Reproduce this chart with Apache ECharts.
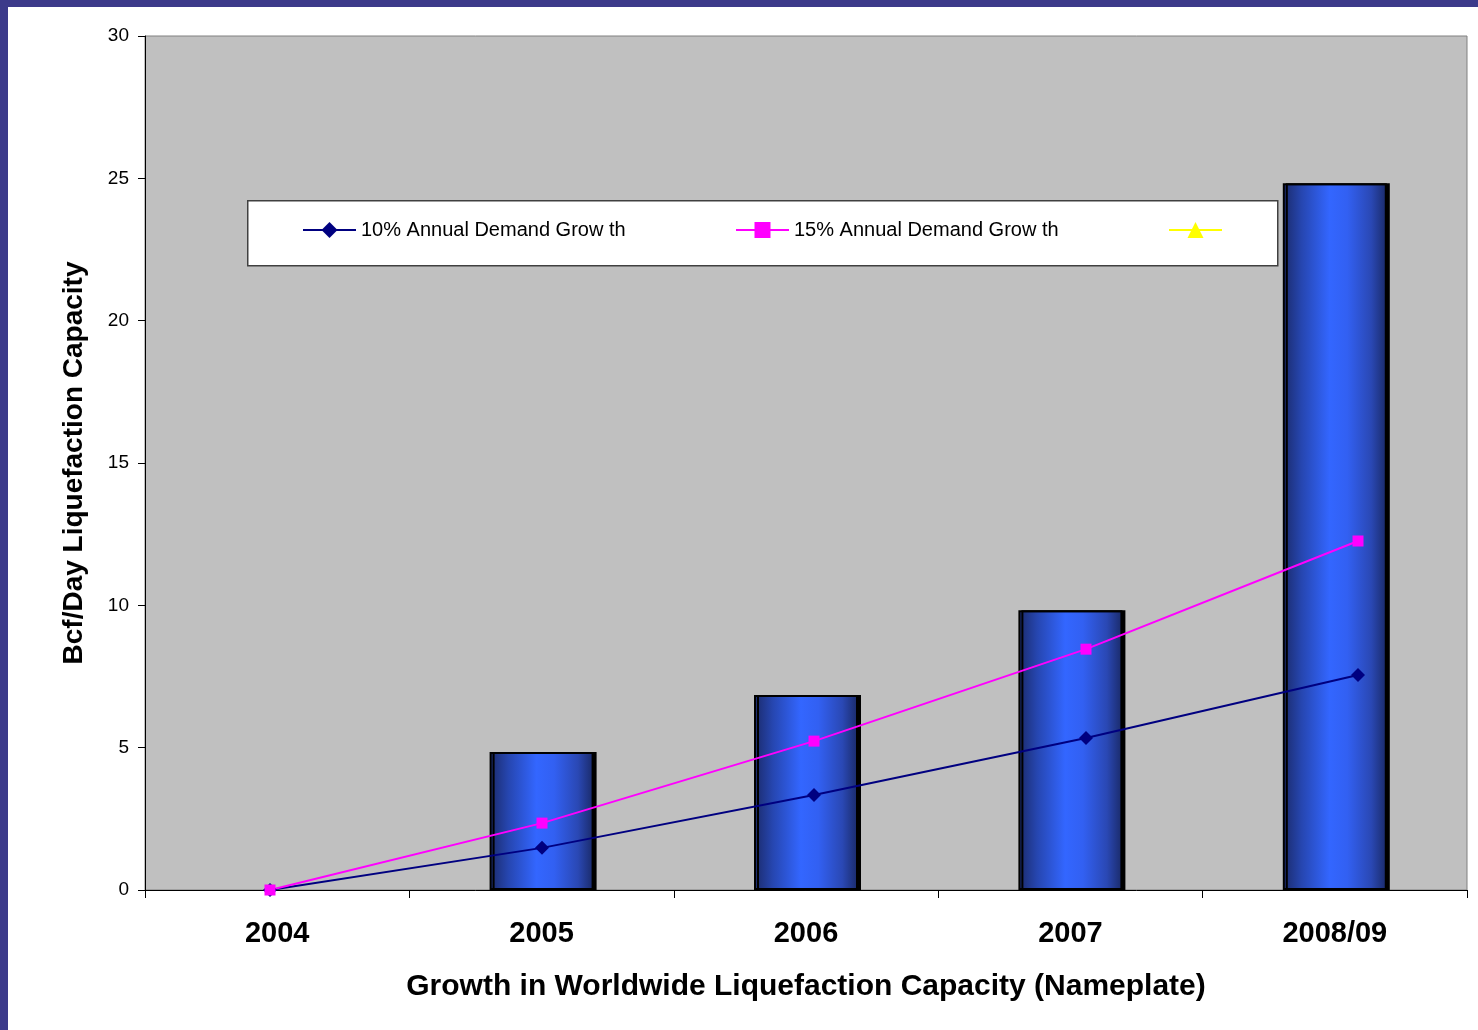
<!DOCTYPE html>
<html>
<head>
<meta charset="utf-8">
<script src="https://cdn.jsdelivr.net/npm/echarts@6/dist/echarts.min.js"></script>
<style>
  html, body { margin: 0; padding: 0; background: #ffffff; }
  #chart { position: absolute; left: 0; top: 0; width: 1478px; height: 1030px; }
  .frame { position: absolute; background: #3c3a8a; z-index: 5; }
</style>
</head>
<body>
<div id="chart"></div>
<div class="frame" style="left:0;top:0;width:1478px;height:7px;"></div>
<div class="frame" style="left:0;top:0;width:8px;height:1030px;"></div>
<script>
// Liquefaction capacity growth vs. demand growth scenarios (Bcf/day)
const categories = ['2004', '2005', '2006', '2007', '2008/09'];
const capacityAdded = [null, 4.85, 6.85, 9.83, 24.83];
const demand10 = [0, 1.48, 3.34, 5.34, 7.55];
const demand15 = [0, 2.35, 5.23, 8.46, 12.26];
const yTicks = [0, 5, 10, 15, 20, 25, 30];

const FONT = '"Liberation Sans", Arial, sans-serif';

const chart = echarts.init(document.getElementById('chart'), null, { renderer: 'canvas' });

const barGradient = new echarts.graphic.LinearGradient(0, 0, 1, 0, [
  { offset: 0, color: '#1b2a6a' },
  { offset: 0.18, color: '#2646b0' },
  { offset: 0.45, color: '#3366ff' },
  { offset: 0.62, color: '#3260f2' },
  { offset: 0.85, color: '#2a48b4' },
  { offset: 1, color: '#1a2a68' }
]);

chart.setOption({
  animation: false,
  backgroundColor: 'transparent',
  grid: [
    { left: 145, right: 11, top: 36, bottom: 140, show: true,
      backgroundColor: '#c0c0c0', borderColor: '#808080', borderWidth: 1 },
    // demand lines are plotted on their own category scale
    { left: 270, right: 120, top: 36, bottom: 140, show: false }
  ],
  graphic: [{
    type: 'rect', left: 247, top: 200, z: 10,
    shape: { width: 1030, height: 65 },
    style: { fill: '#ffffff', stroke: '#404040', lineWidth: 1.5 }
  }],
  legend: [
    { data: ['10% Annual Demand Grow th'], left: 302, top: 220, z: 20 },
    { data: ['15% Annual Demand Grow th'], left: 735, top: 220, z: 20 },
    { data: [' '], left: 1168, top: 220, z: 20 }
  ].map(l => Object.assign({
    itemWidth: 53, itemHeight: 20, itemGap: 0, padding: 0,
    textStyle: { fontFamily: FONT, fontSize: 20, color: '#000', padding: [0, 0, 0, 0] }
  }, l)),
  xAxis: [
    {
      type: 'category', data: categories, gridIndex: 0, boundaryGap: true,
      axisLine: { show: true, lineStyle: { color: '#000', width: 1 } },
      axisTick: { show: true, length: 8, inside: false, lineStyle: { color: '#000' } },
      axisLabel: { fontFamily: FONT, fontSize: 29, fontWeight: 'bold', color: '#000', margin: 29 },
      name: 'Growth in Worldwide Liquefaction Capacity (Nameplate)',
      nameLocation: 'middle', nameGap: 82,
      nameTextStyle: { fontFamily: FONT, fontSize: 30, fontWeight: 'bold', color: '#000' }
    },
    { type: 'category', data: categories, gridIndex: 1, boundaryGap: false, show: false }
  ],
  yAxis: [
    {
      type: 'value', gridIndex: 0, min: 0, max: 30, interval: 5,
      axisLine: { show: true, lineStyle: { color: '#000', width: 1 } },
      axisTick: { show: true, length: 7, lineStyle: { color: '#000' } },
      splitLine: { show: false },
      axisLabel: { fontFamily: FONT, fontSize: 19, color: '#000', margin: 16,
        formatter: v => (yTicks.includes(v) ? String(v) : '') },
      name: 'Bcf/Day Liquefaction Capacity', nameLocation: 'middle', nameGap: 57,
      nameTextStyle: { fontFamily: FONT, fontSize: 28, fontWeight: 'bold', color: '#000' }
    },
    { type: 'value', gridIndex: 1, min: 0, max: 30, show: false }
  ],
  series: [
    {
      name: 'Liquefaction Capacity', type: 'bar', xAxisIndex: 0, yAxisIndex: 0,
      data: capacityAdded, barWidth: 104,
      itemStyle: {
        color: barGradient, borderColor: '#000', borderWidth: 2,
        shadowColor: '#000', shadowOffsetX: 3, shadowOffsetY: 0, shadowBlur: 0
      }
    },
    {
      name: '10% Annual Demand Grow th', type: 'line', xAxisIndex: 1, yAxisIndex: 1,
      data: demand10, symbol: 'diamond', symbolSize: 14, z: 4,
      lineStyle: { color: '#000080', width: 2 }, itemStyle: { color: '#000080' }
    },
    {
      name: '15% Annual Demand Grow th', type: 'line', xAxisIndex: 1, yAxisIndex: 1,
      data: demand15, symbol: 'rect', symbolSize: 11, z: 4,
      lineStyle: { color: '#ff00ff', width: 2 }, itemStyle: { color: '#ff00ff' }
    },
    {
      name: ' ', type: 'line', xAxisIndex: 1, yAxisIndex: 1,
      data: [], symbol: 'triangle', symbolSize: 13,
      lineStyle: { color: '#ffff00', width: 2 }, itemStyle: { color: '#ffff00' }
    }
  ]
});
</script>
</body>
</html>
